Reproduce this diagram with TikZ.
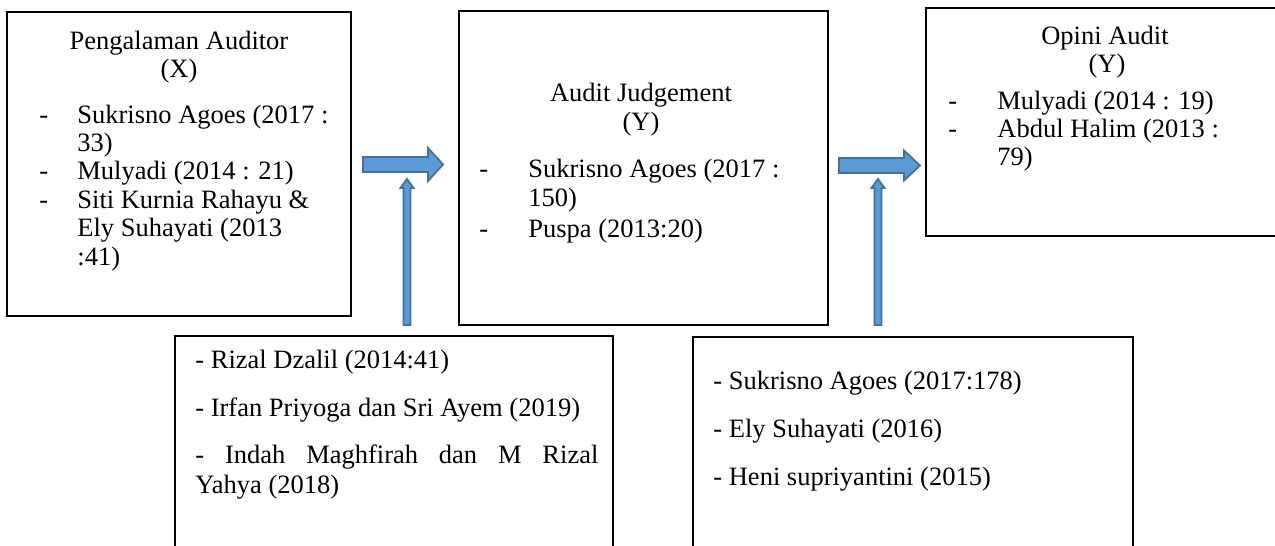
\documentclass[tikz,border=0pt]{standalone}
\usepackage{fontspec}
\setmainfont{Liberation Serif}
\usetikzlibrary{fit}
\definecolor{arrowfill}{HTML}{5B9BD5}
\definecolor{arrowline}{HTML}{41719C}
\begin{document}
\begin{tikzpicture}[x=0.5pt,y=-0.5pt,
  box/.style={draw=black, line width=1pt, inner sep=0pt},
  txt/.style={anchor=base west, inner sep=0pt, yshift=-1pt, font=\fontsize{13.25}{14.25}\selectfont},
  ctxt/.style={anchor=base, inner sep=0pt, yshift=-1pt, font=\fontsize{13.25}{14.25}\selectfont},
  blockarrow/.style={fill=arrowfill, draw=arrowline, line width=0.9pt, line join=miter}]
\useasboundingbox (0,0) rectangle (1275,546);
\clip (0,0) rectangle (1275,546);
\fill[white] (0,0) rectangle (1275,546);

% boxes
\node[box, fit={(7,12) (351,316)}] (b1) {};
\node[box, fit={(459,11) (828,325)}] (b2) {};
\node[box, fit={(926,8) (1290,236)}] (b3) {};
\node[box, fit={(175,336) (613,560)}] (b4) {};
\node[box, fit={(693,337) (1133,560)}] (b5) {};

% box 1 text
\node[ctxt] (t1a) at (179,47) {Pengalaman Auditor};
\node[ctxt] (t1b) at (179,75) {(X)};
\node[txt] (d1a) at (39,121) {-};
\node[txt] (t1c) at (77,121) {Sukrisno Agoes (2017 :};
\node[txt] (t1d) at (77,149) {33)};
\node[txt] (d1b) at (39,177) {-};
\node[txt] (t1e) at (77,177) {Mulyadi (2014 : 21)};
\node[txt] (d1c) at (39,206) {-};
\node[txt] (t1f) at (77,206) {Siti Kurnia Rahayu \&};
\node[txt] (t1g) at (77,234) {Ely Suhayati (2013};
\node[txt] (t1h) at (77,263) {:41)};

% box 2 text
\node[ctxt] (t2a) at (641,99) {Audit Judgement};
\node[ctxt] (t2b) at (641,128) {(Y)};
\node[txt] (d2a) at (479,175) {-};
\node[txt] (t2c) at (528,175) {Sukrisno Agoes (2017 :};
\node[txt] (t2d) at (528,204) {150)};
\node[txt] (d2b) at (479,235) {-};
\node[txt] (t2e) at (528,235) {Puspa (2013:20)};

% box 3 text
\node[ctxt] (t3a) at (1105,42) {Opini Audit};
\node[ctxt] (t3b) at (1107,70) {(Y)};
\node[txt] (d3a) at (948,107) {-};
\node[txt] (t3c) at (997,107) {Mulyadi (2014 : 19)};
\node[txt] (d3b) at (948,135) {-};
\node[txt] (t3d) at (997,135) {Abdul Halim (2013 :};
\node[txt] (t3e) at (997,163) {79)};

% box 4 text
\node[txt] (t4a) at (195,366) {- Rizal Dzalil (2014:41)};
\node[txt] (t4b) at (195,414) {- Irfan Priyoga dan Sri Ayem (2019)};
\node[txt] (t4c) at (195,461) {\makebox[201.5pt][s]{- Indah Maghfirah dan M Rizal}};
\node[txt] (t4d) at (195,491) {Yahya (2018)};

% box 5 text
\node[txt] (t5a) at (713,387) {- Sukrisno Agoes (2017:178)};
\node[txt] (t5b) at (713,435) {- Ely Suhayati (2016)};
\node[txt] (t5c) at (713,483) {- Heni supriyantini (2015)};

% block arrows
\coordinate (h1) at (363,164.5);
\coordinate (h2) at (839,165.5);
\coordinate (v1) at (407,325);
\coordinate (v2) at (878,325);

\draw[blockarrow] (h1) ++(0,-7.5) -- ++(65,0) -- ++(0,-9) -- ++(15,16.5) -- ++(-15,16.5) -- ++(0,-9) -- ++(-65,0) -- cycle;
\draw[blockarrow] (h2) ++(0,-7.5) -- ++(65,0) -- ++(0,-7.5) -- ++(16,15) -- ++(-16,15) -- ++(0,-7.5) -- ++(-65,0) -- cycle;
\draw[blockarrow] (v1) ++(-3.5,0) -- ++(0,-137) -- ++(-3,0) -- ++(6.5,-9) -- ++(6.5,9) -- ++(-3,0) -- ++(0,137) -- cycle;
\draw[blockarrow] (v2) ++(-3.5,0) -- ++(0,-137) -- ++(-3,0) -- ++(6.5,-9) -- ++(6.5,9) -- ++(-3,0) -- ++(0,137) -- cycle;
\end{tikzpicture}
\end{document}
